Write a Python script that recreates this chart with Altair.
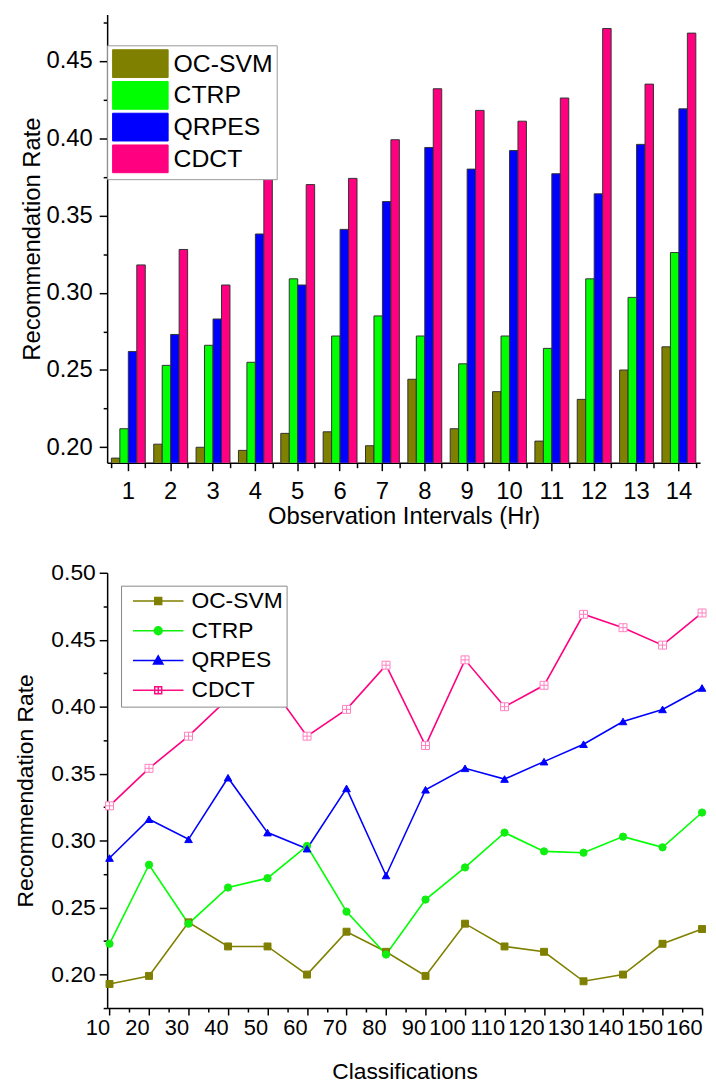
import altair as alt
import pandas as pd

# ---------------- data ----------------
series = ["OC-SVM", "CTRP", "QRPES", "CDCT"]

intervals = list(range(1, 15))
bar_ocsvm = [0.193, 0.202, 0.200, 0.198, 0.209, 0.210, 0.201, 0.244, 0.212, 0.236, 0.204, 0.231, 0.250, 0.265]
bar_ctrp = [0.212, 0.253, 0.266, 0.255, 0.309, 0.272, 0.285, 0.272, 0.254, 0.272, 0.264, 0.309, 0.297, 0.326]
bar_qrpes = [0.262, 0.273, 0.283, 0.338, 0.305, 0.341, 0.359, 0.394, 0.380, 0.392, 0.377, 0.364, 0.396, 0.419]
bar_cdct = [0.318, 0.328, 0.305, 0.382, 0.370, 0.374, 0.399, 0.432, 0.418, 0.411, 0.426, 0.471, 0.435, 0.468]

classes = [10, 20, 30, 40, 50, 60, 70, 80, 90, 100, 110, 120, 130, 140, 150, 160]
line_ocsvm = [0.193, 0.199, 0.239, 0.221, 0.221, 0.200, 0.232, 0.217, 0.199, 0.238, 0.221, 0.217, 0.195, 0.200, 0.223, 0.234]
line_ctrp = [0.223, 0.282, 0.238, 0.265, 0.272, 0.296, 0.247, 0.215, 0.256, 0.280, 0.306, 0.292, 0.291, 0.303, 0.295, 0.321]
line_qrpes = [0.287, 0.316, 0.301, 0.347, 0.306, 0.294, 0.339, 0.274, 0.338, 0.354, 0.346, 0.359, 0.372, 0.389, 0.398, 0.414]
line_cdct = [0.326, 0.354, 0.378, 0.406, 0.419, 0.378, 0.398, 0.431, 0.371, 0.435, 0.400, 0.416, 0.469, 0.459, 0.446, 0.470]

top_y_ticks = [0.2, 0.225, 0.25, 0.275, 0.3, 0.325, 0.35, 0.375, 0.4, 0.425, 0.45, 0.475]
bot_y_ticks = [0.175, 0.2, 0.225, 0.25, 0.275, 0.3, 0.325, 0.35, 0.375, 0.4, 0.425, 0.45, 0.475, 0.5]
bot_x_ticks = [10, 15, 20, 25, 30, 35, 40, 45, 50, 55, 60, 65, 70, 75, 80, 85, 90, 95, 100,
               105, 110, 115, 120, 125, 130, 135, 140, 145, 150, 155, 160]

# ---------------- styles ----------------
FONT = "Liberation Sans"
bar_colors = ["#808000", "#00ff00", "#0000ff", "#ff0080"]
line_colors = ["#808000", "#11ee11", "#0000ff", "#ff0a80"]
marker_fill = ["#808000", "#11ee11", "#0000ff", "#ffffff"]
marker_stroke = ["#808000", "#11ee11", "#0000ff", "#ff80c0"]
marker_shapes = ["square", "circle", "triangle-up", "M-1,-1H1V1H-1ZM0,-1V1M-1,0H1"]
marker_sizes = [49, 64, 100, 56]
# legend symbols: unit = 7px (symbolSize 196), line 51px long
legend_shapes = [
    "M-3.64,0H3.64M-0.5,-0.5H0.5V0.5H-0.5Z",
    "M-3.64,0H3.64M-0.57,0A0.57,0.57 0 1,0 0.57,0A0.57,0.57 0 1,0 -0.57,0Z",
    "M-3.64,0H3.64M0,-0.68L0.68,0.5H-0.68Z",
    "M-3.64,0H3.64M-0.5,-0.5H0.5V0.5H-0.5ZM0,-0.5V0.5",
]

bar_vals = {"OC-SVM": bar_ocsvm, "CTRP": bar_ctrp, "QRPES": bar_qrpes, "CDCT": bar_cdct}
line_vals = {"OC-SVM": line_ocsvm, "CTRP": line_ctrp, "QRPES": line_qrpes, "CDCT": line_cdct}

df_bar = pd.DataFrame(
    [{"interval": iv, "series": s, "value": v}
     for s in series for iv, v in zip(intervals, bar_vals[s])]
)
df_line = pd.DataFrame(
    [{"cls": c, "series": s, "value": v}
     for s in series for c, v in zip(classes, line_vals[s])]
)

major_y = "round(datum.value*1000) % 50 === 0"

# ---------------- top: grouped bars ----------------
top_legend = alt.Legend(
    title=None, orient="none", legendX=0, legendY=31,
    symbolType="M-2,-1H2V1H-2Z", symbolSize=784, symbolOffset=15,
    symbolStrokeColor="#333333", symbolStrokeWidth=1, symbolOpacity=1,
    labelFont=FONT, labelFontSize=25, labelColor="black", labelOffset=19,
    labelLimit=300, rowPadding=-1, padding=4,
    fillColor="white", strokeColor="#999999",
)

y_top = alt.Y(
    "value:Q",
    scale=alt.Scale(domain=[0.19, 0.48], zero=False, nice=False),
    axis=alt.Axis(
        title="Recommendation Rate", values=top_y_ticks, format=".2f",
        labelExpr=major_y + " ? datum.label : ''",
        tickSize={"condition": {"test": major_y, "value": 8}, "value": 4},
        labelFontSize=24, titleFontSize=24, labelPadding=7, titlePadding=2,
    ),
)

bars = alt.Chart(df_bar).mark_bar(stroke="#333333", strokeWidth=1, clip=True).encode(
    x=alt.X(
        "interval:O",
        scale=alt.Scale(paddingInner=0.2, paddingOuter=0.1),
        axis=alt.Axis(
            title="Observation Intervals (Hr)", labelAngle=0, labelFontSize=24,
            titleFontSize=24, tickSize=8, labelPadding=9, titlePadding=1,
            orient="bottom",
        ),
    ),
    xOffset=alt.XOffset("series:N", sort=series, scale=alt.Scale(domain=series)),
    y=y_top,
    color=alt.Color("series:N", sort=series,
                    scale=alt.Scale(domain=series, range=bar_colors),
                    legend=top_legend),
)

minor_x = alt.Chart(df_bar).mark_point(opacity=0).encode(
    x=alt.X(
        "interval:O",
        axis=alt.Axis(tickBand="extent", labels=False, domain=False, title=None,
                      tickSize=5, orient="bottom"),
    ),
    y=y_top,
)

top = alt.layer(bars, minor_x).resolve_axis(x="independent").properties(
    width=598, height=452
)

# ---------------- bottom: lines ----------------
bot_legend = alt.Legend(
    title=None, orient="none", legendX=14, legendY=13,
    symbolSize=196, symbolStrokeWidth=1.5, symbolOffset=22, symbolOpacity=1,
    labelFont=FONT, labelFontSize=23, labelColor="black", labelOffset=22,
    labelLimit=300, rowPadding=6, padding=4,
    fillColor="white", strokeColor="#888888",
)

xb = alt.X(
    "cls:Q",
    scale=alt.Scale(domain=[9.4, 160], nice=False, zero=False),
    axis=alt.Axis(
        title="Classifications", values=bot_x_ticks,
        labelExpr="datum.value % 10 === 0 ? datum.label : ''",
        tickSize={"condition": {"test": "datum.value % 10 === 0", "value": 7}, "value": 4},
        labelFontSize=22, titleFontSize=23, labelPadding=3, titlePadding=22,
        labelFlush=False, labelOverlap=False, labelAlign="right",
    ),
)
yb = alt.Y(
    "value:Q",
    scale=alt.Scale(domain=[0.175, 0.5], zero=False, nice=False),
    axis=alt.Axis(
        title="Recommendation Rate", values=bot_y_ticks, format=".2f",
        labelExpr=major_y + " ? datum.label : ''",
        tickSize={"condition": {"test": major_y, "value": 8}, "value": 4},
        labelFontSize=23, titleFontSize=23, labelPadding=4, titlePadding=14,
    ),
)

lines = alt.Chart(df_line).mark_line(strokeWidth=1.6).encode(
    x=xb, y=yb,
    color=alt.Color("series:N", sort=series,
                    scale=alt.Scale(domain=series, range=line_colors),
                    legend=None),
)

points = alt.Chart(df_line).mark_point(filled=True, opacity=1, strokeWidth=1).encode(
    x=xb, y=yb,
    shape=alt.Shape("series:N", scale=alt.Scale(domain=series, range=marker_shapes), legend=None),
    fill=alt.Fill("series:N", scale=alt.Scale(domain=series, range=marker_fill), legend=None),
    stroke=alt.Stroke("series:N", scale=alt.Scale(domain=series, range=marker_stroke), legend=None),
    size=alt.Size("series:N", scale=alt.Scale(domain=series, range=marker_sizes), legend=None),
)

# legend-only layer (no marks drawn: data filtered out, entries come from the scale domain)
legend_layer = alt.Chart(df_line).transform_filter("datum.value < 0").mark_point(
    filled=True, opacity=1, strokeWidth=1.5, size=196
).encode(
    x=xb, y=yb,
    shape=alt.Shape("series:N", scale=alt.Scale(domain=series, range=legend_shapes), legend=bot_legend),
    fill=alt.Fill("series:N", scale=alt.Scale(domain=series, range=marker_fill), legend=bot_legend),
    stroke=alt.Stroke("series:N", scale=alt.Scale(domain=series, range=line_colors), legend=bot_legend),
)

bottom = alt.layer(lines, points, legend_layer).resolve_scale(
    shape="independent", fill="independent", stroke="independent", size="independent"
).properties(width=600, height=439)

chart = alt.vconcat(top, bottom, spacing=34).properties(
    padding={"left": 6, "top": 2, "right": 0, "bottom": 0}
).configure(font=FONT).configure_view(stroke=None).configure_axis(
    domainColor="black", domainWidth=1.5, tickColor="black", tickWidth=1.5,
    labelColor="black", titleColor="black", titleFontWeight="normal",
    labelFont=FONT, titleFont=FONT, grid=False,
)

chart.save("out.html", embed_options={"renderer": "svg", "actions": False})
